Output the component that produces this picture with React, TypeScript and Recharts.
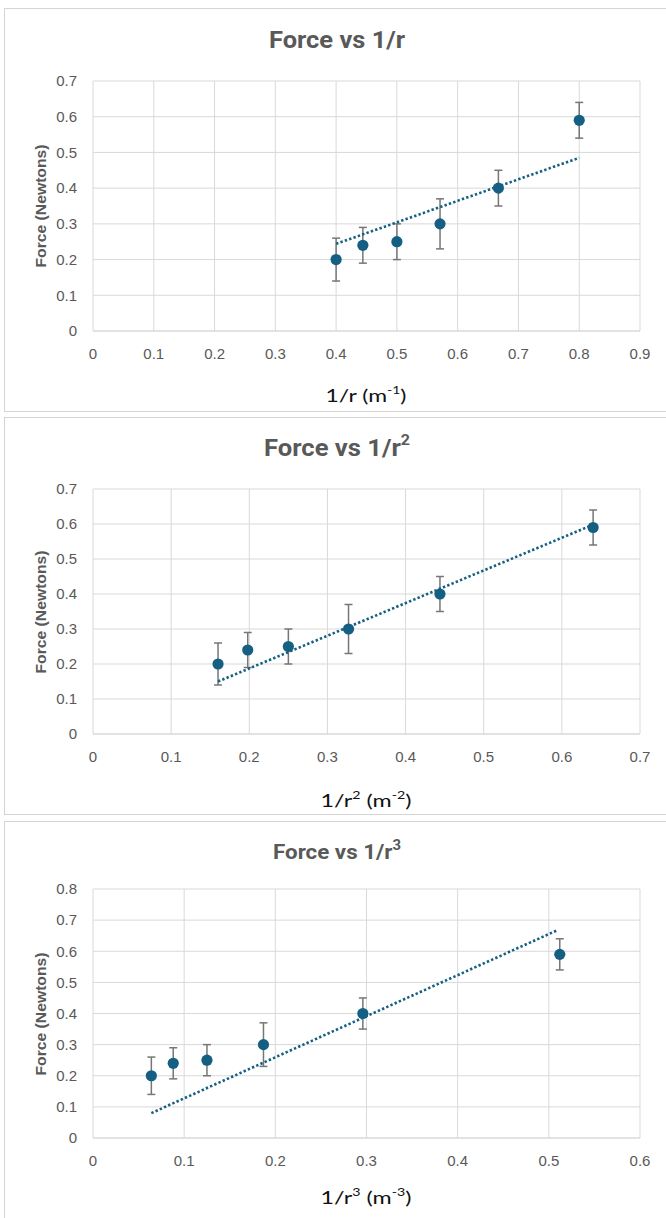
import React from 'react';
import { ScatterChart, Scatter, XAxis, YAxis, CartesianGrid, ErrorBar } from 'recharts';

// ---- data ----
const forceValues = [0.2, 0.24, 0.25, 0.3, 0.4, 0.59];
const forceErrors = [0.06, 0.05, 0.05, 0.07, 0.05, 0.05];
const invR = [0.4, 0.444, 0.5, 0.571, 0.667, 0.8];
const invR2 = [0.16, 0.198, 0.25, 0.327, 0.444, 0.64];
const invR3 = [0.064, 0.088, 0.125, 0.187, 0.296, 0.512];

const trend1X = [0.4, 0.8];
const trend1Y = [0.244, 0.485];
const trend2X = [0.16, 0.64];
const trend2Y = [0.15, 0.598];
const trend3X = [0.064, 0.509];
const trend3Y = [0.08, 0.667];

const xTicks1 = [0, 0.1, 0.2, 0.3, 0.4, 0.5, 0.6, 0.7, 0.8, 0.9];
const yTicks1 = [0, 0.1, 0.2, 0.3, 0.4, 0.5, 0.6, 0.7];
const xTicks2 = [0, 0.1, 0.2, 0.3, 0.4, 0.5, 0.6, 0.7];
const yTicks2 = [0, 0.1, 0.2, 0.3, 0.4, 0.5, 0.6, 0.7];
const xTicks3 = [0, 0.1, 0.2, 0.3, 0.4, 0.5, 0.6];
const yTicks3 = [0, 0.1, 0.2, 0.3, 0.4, 0.5, 0.6, 0.7, 0.8];

const MARKER = '#156082';
const ERR = '#767676';
const GRID = '#d9d9d9';
const TICK = '#595959';

const makePoints = (xs: number[]) => xs.map((x, i) => ({ x, y: forceValues[i], err: forceErrors[i] }));
const makeTrend = (xs: number[], ys: number[]) => xs.map((x, i) => ({ x, y: ys[i] }));

const Dot = (p: any) => <circle cx={p.cx} cy={p.cy} r={5.6} fill={MARKER} />;
const NoDot = () => <g />;

type PanelProps = {
  top: number;
  height: number;
  mTop: number;
  mBottom: number;
  xTicks: number[];
  yTicks: number[];
  points: { x: number; y: number; err: number }[];
  trend: { x: number; y: number }[];
};

function Panel({ top, height, mTop, mBottom, xTicks, yTicks, points, trend }: PanelProps) {
  const tickStyle = { fill: TICK, fontSize: 15, fontFamily: 'Liberation Sans, Arial, sans-serif' };
  return (
    <div style={{ position: 'absolute', left: 0, top, width: 666, height }}>
      <ScatterChart width={666} height={height} margin={{ top: mTop, right: 26, bottom: mBottom, left: 0 }}>
        <CartesianGrid stroke={GRID} strokeWidth={1} />
        <XAxis
          type="number"
          dataKey="x"
          domain={[xTicks[0], xTicks[xTicks.length - 1]]}
          ticks={xTicks}
          interval={0}
          height={30}
          tickSize={0}
          tickMargin={17}
          axisLine={{ stroke: GRID }}
          tickLine={false}
          tick={tickStyle}
          allowDataOverflow
        />
        <YAxis
          type="number"
          dataKey="y"
          domain={[yTicks[0], yTicks[yTicks.length - 1]]}
          ticks={yTicks}
          interval={0}
          width={93}
          tickSize={0}
          tickMargin={16}
          axisLine={false}
          tickLine={false}
          tick={tickStyle}
          allowDataOverflow
        />
        <Scatter data={points} shape={Dot} isAnimationActive={false}>
          <ErrorBar dataKey="err" direction="y" width={4} stroke={ERR} strokeWidth={1.5} />
        </Scatter>
        <Scatter
          data={trend}
          shape={NoDot}
          line={{ stroke: MARKER, strokeWidth: 2.6, strokeDasharray: '2.4 2.2' }}
          isAnimationActive={false}
        />
      </ScatterChart>
    </div>
  );
}

const boxStyle = (top: number, height: number): React.CSSProperties => ({
  position: 'absolute',
  left: 4,
  top,
  width: 720,
  height,
  border: '1px solid #d4d4d4',
  boxSizing: 'border-box',
  background: '#fff',
});

const titleFont = 'Roboto, "Liberation Sans", sans-serif';
const labelFont = 'Lato, "Open Sans", sans-serif';

export default function App() {
  return (
    <div style={{ position: 'absolute', left: 0, top: 0, width: 666, height: 1218, overflow: 'hidden', background: '#fff' }}>
      <div style={boxStyle(8, 404)} />
      <div style={boxStyle(417, 398)} />
      <div style={boxStyle(821, 420)} />

      <Panel top={8} height={404} mTop={73} mBottom={51} xTicks={xTicks1} yTicks={yTicks1} points={makePoints(invR)} trend={makeTrend(trend1X, trend1Y)} />
      <Panel top={417} height={398} mTop={72} mBottom={51} xTicks={xTicks2} yTicks={yTicks2} points={makePoints(invR2)} trend={makeTrend(trend2X, trend2Y)} />
      <Panel top={821} height={397} mTop={68} mBottom={50} xTicks={xTicks3} yTicks={yTicks3} points={makePoints(invR3)} trend={makeTrend(trend3X, trend3Y)} />

      <svg width={666} height={1218} style={{ position: 'absolute', left: 0, top: 0, pointerEvents: 'none' }}>
        {/* chart titles */}
        <text x={337} y={40} textAnchor="middle" dominantBaseline="central" fontSize={24} fontWeight={700} fill={TICK} fontFamily={titleFont} textLength={136} lengthAdjust="spacingAndGlyphs">
          Force vs 1/r
        </text>
        <text x={337} y={448} textAnchor="middle" dominantBaseline="central" fontSize={24} fontWeight={700} fill={TICK} fontFamily={titleFont} textLength={146} lengthAdjust="spacingAndGlyphs">
          <tspan>Force vs 1/r</tspan>
          <tspan fontSize={15} dy={-8}>2</tspan>
        </text>
        <text x={337} y={852} textAnchor="middle" dominantBaseline="central" fontSize={21} fontWeight={700} fill={TICK} fontFamily={titleFont} textLength={128} lengthAdjust="spacingAndGlyphs">
          <tspan>Force vs 1/r</tspan>
          <tspan fontSize={14} dy={-7}>3</tspan>
        </text>

        {/* y axis titles */}
        {[206, 612, 1014].map((cy) => (
          <text key={cy} x={40} y={cy} transform={`rotate(-90 40 ${cy})`} textAnchor="middle" dominantBaseline="central" fontSize={15} fontWeight={700} fill={TICK} fontFamily={'"Liberation Sans", Arial, sans-serif'} textLength={123} lengthAdjust="spacingAndGlyphs">
            Force (Newtons)
          </text>
        ))}

        {/* x axis titles */}
        <text x={366} y={395} textAnchor="middle" dominantBaseline="central" fontSize={18} fill="#111" fontFamily={labelFont} textLength={81} lengthAdjust="spacingAndGlyphs">
          <tspan>1/r (m</tspan>
          <tspan fontSize={11} dy={-6}>-1</tspan>
          <tspan dy={6}>)</tspan>
        </text>
        <text x={366} y={800} textAnchor="middle" dominantBaseline="central" fontSize={18} fill="#111" fontFamily={labelFont} textLength={91} lengthAdjust="spacingAndGlyphs">
          <tspan>1/r</tspan>
          <tspan fontSize={11} dy={-6}>2</tspan>
          <tspan dy={6}> (m</tspan>
          <tspan fontSize={11} dy={-6}>-2</tspan>
          <tspan dy={6}>)</tspan>
        </text>
        <text x={366} y={1197} textAnchor="middle" dominantBaseline="central" fontSize={18} fill="#111" fontFamily={labelFont} textLength={91} lengthAdjust="spacingAndGlyphs">
          <tspan>1/r</tspan>
          <tspan fontSize={11} dy={-6}>3</tspan>
          <tspan dy={6}> (m</tspan>
          <tspan fontSize={11} dy={-6}>-3</tspan>
          <tspan dy={6}>)</tspan>
        </text>
      </svg>
    </div>
  );
}
